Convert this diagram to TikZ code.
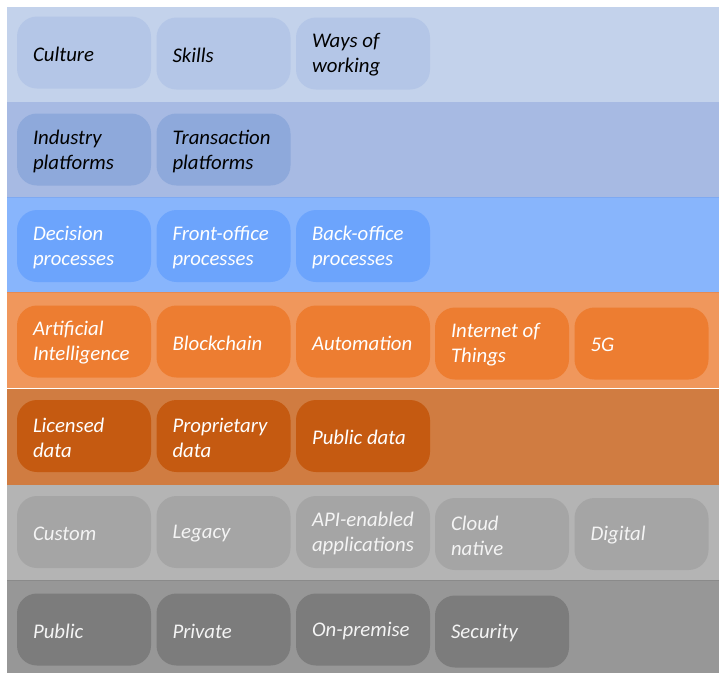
\documentclass[tikz,border=0pt]{standalone}
\usepackage{fontspec}
\setmainfont{Carlito}
\definecolor{bandA}{HTML}{C3D2EB}\definecolor{boxA}{HTML}{B4C6E7}
\definecolor{bandB}{HTML}{A7BAE3}\definecolor{boxB}{HTML}{8EA9DB}
\definecolor{bandC}{HTML}{88B5FC}\definecolor{boxC}{HTML}{6CA4FC}
\definecolor{bandD}{HTML}{F0975C}\definecolor{boxD}{HTML}{ED7D31}
\definecolor{bandE}{HTML}{D07C41}\definecolor{boxE}{HTML}{C55A11}
\definecolor{bandF}{HTML}{B4B4B4}\definecolor{boxF}{HTML}{A5A5A5}
\definecolor{bandG}{HTML}{979797}\definecolor{boxG}{HTML}{7C7C7C}
\definecolor{lineC}{HTML}{7EA9F2}\definecolor{lineD}{HTML}{E68A52}
\definecolor{lineG}{HTML}{8A8A8A}\definecolor{txtlight}{HTML}{F4F4F4}
\tikzset{
  box/.style={rounded corners=20pt, minimum width=134pt, minimum height=72pt, inner sep=0pt, draw=none},
  lbl/.style={anchor=west, align=left, inner sep=0pt, yshift=-1.5pt, font=\fontsize{20.8}{25}\selectfont\itshape},
}
\begin{document}
\begin{tikzpicture}[x=1pt,y=-1pt]
\useasboundingbox (0,0) rectangle (719,673);
\fill[white] (0,0) rectangle (719,673);
% bands
\fill[bandA] (7,7) rectangle (719,102);
\fill[bandB] (7,102) rectangle (719,197);
\fill[bandC] (7,197) rectangle (719,292);
\fill[bandD] (7,292) rectangle (719,388);
\fill[bandE] (7,389) rectangle (719,485);
\fill[bandF] (7,485) rectangle (719,580);
\fill[bandG] (7,580) rectangle (719,673);
\draw[lineC, line width=0.8pt] (7,197.4) -- (719,197.4);
\draw[lineD, line width=0.8pt] (7,292.4) -- (719,292.4);
\draw[lineG, line width=0.8pt] (7,580.4) -- (719,580.4);
% row 1
\node[box, fill=boxA] (a1) at (84,52.5) {};
\node[box, fill=boxA] (a2) at (223.5,53.5) {};
\node[box, fill=boxA] (a3) at (363,53.5) {};
\node[lbl, text=black] (ta1) at ([xshift=16pt]a1.west) {Culture};
\node[lbl, text=black] (ta2) at ([xshift=16pt]a2.west) {Skills};
\node[lbl, text=black] (ta3) at ([xshift=16pt]a3.west) {Ways of\\working};
% row 2
\node[box, fill=boxB] (b1) at (84,149.5) {};
\node[box, fill=boxB] (b2) at (223.5,149.5) {};
\node[lbl, text=black] (tb1) at ([xshift=16pt]b1.west) {Industry\\platforms};
\node[lbl, text=black] (tb2) at ([xshift=16pt]b2.west) {Transaction\\platforms};
% row 3
\node[box, fill=boxC] (c1) at (84,246) {};
\node[box, fill=boxC] (c2) at (223.5,246) {};
\node[box, fill=boxC] (c3) at (363,246) {};
\node[lbl, text=white] (tc1) at ([xshift=16pt]c1.west) {Decision\\processes};
\node[lbl, text=white] (tc2) at ([xshift=16pt]c2.west) {Front-office\\processes};
\node[lbl, text=white] (tc3) at ([xshift=16pt]c3.west) {Back-office\\processes};
% row 4
\node[box, fill=boxD] (d1) at (84,341.5) {};
\node[box, fill=boxD] (d2) at (223.5,341.5) {};
\node[box, fill=boxD] (d3) at (363,341.5) {};
\node[box, fill=boxD] (d4) at (502,343.5) {};
\node[box, fill=boxD] (d5) at (641.5,343.5) {};
\node[lbl, text=white] (td1) at ([xshift=16pt]d1.west) {Artificial\\Intelligence};
\node[lbl, text=white] (td2) at ([xshift=16pt]d2.west) {Blockchain};
\node[lbl, text=white] (td3) at ([xshift=16pt]d3.west) {Automation};
\node[lbl, text=white] (td4) at ([xshift=16pt]d4.west) {Internet of\\Things};
\node[lbl, text=white] (td5) at ([xshift=16pt]d5.west) {5G};
% row 5
\node[box, fill=boxE] (e1) at (84,436) {};
\node[box, fill=boxE] (e2) at (223.5,436) {};
\node[box, fill=boxE] (e3) at (363,436) {};
\node[lbl, text=white] (te1) at ([xshift=16pt]e1.west) {Licensed\\data};
\node[lbl, text=white] (te2) at ([xshift=16pt]e2.west) {Proprietary\\data};
\node[lbl, text=white] (te3) at ([xshift=16pt]e3.west) {Public data};
% row 6
\node[box, fill=boxF] (f1) at (84,532) {};
\node[box, fill=boxF] (f2) at (223.5,532) {};
\node[box, fill=boxF] (f3) at (363,532) {};
\node[box, fill=boxF] (f4) at (502,534) {};
\node[box, fill=boxF] (f5) at (641.5,534) {};
\node[lbl, text=txtlight] (tf1) at ([xshift=16pt]f1.west) {Custom};
\node[lbl, text=txtlight] (tf2) at ([xshift=16pt]f2.west) {Legacy};
\node[lbl, text=txtlight] (tf3) at ([xshift=16pt]f3.west) {API-enabled\\applications};
\node[lbl, text=txtlight] (tf4) at ([xshift=16pt]f4.west) {Cloud\\native};
\node[lbl, text=txtlight] (tf5) at ([xshift=16pt]f5.west) {Digital};
% row 7
\node[box, fill=boxG] (g1) at (84,629.5) {};
\node[box, fill=boxG] (g2) at (223.5,629.5) {};
\node[box, fill=boxG] (g3) at (363,629.5) {};
\node[box, fill=boxG] (g4) at (502,631.5) {};
\node[lbl, text=txtlight] (tg1) at ([xshift=16pt]g1.west) {Public};
\node[lbl, text=txtlight] (tg2) at ([xshift=16pt]g2.west) {Private};
\node[lbl, text=txtlight] (tg3) at ([xshift=16pt]g3.west) {On-premise};
\node[lbl, text=txtlight] (tg4) at ([xshift=16pt]g4.west) {Security};
\end{tikzpicture}
\end{document}
